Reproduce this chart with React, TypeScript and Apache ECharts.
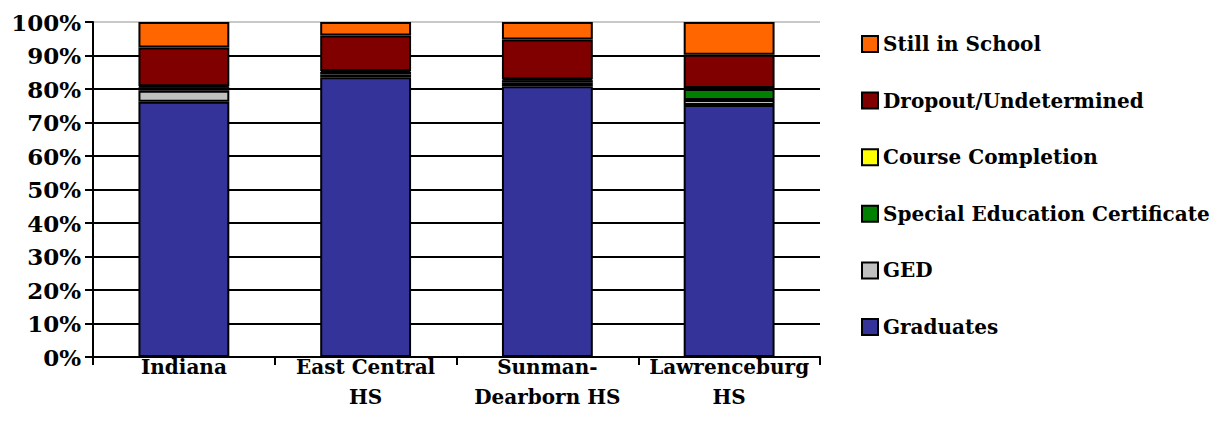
import React, { useEffect, useRef } from "react";
import * as echarts from "echarts";

const categories = ["Indiana", "East Central\nHS", "Sunman-\nDearborn HS", "Lawrenceburg\nHS"];
const graduates = [76.2, 83.5, 80.8, 75.2];
const ged = [3.3, 0.8, 1.2, 1.5];
const specialEd = [1.0, 0.8, 0.6, 3.3];
const courseCompletion = [0.3, 0.3, 0.3, 0.3];
const dropout = [11.6, 10.6, 11.9, 9.9];
const stillInSchool = [7.6, 4.0, 5.2, 9.8];
const yTicks = [0, 10, 20, 30, 40, 50, 60, 70, 80, 90, 100];

const FONT = "DejaVu Serif";

export default function App() {
  const ref = useRef<HTMLDivElement>(null);
  useEffect(() => {
    if (!ref.current) return;
    const chart = echarts.init(ref.current, undefined, { renderer: "svg" });
    const mk = (name: string, data: number[], color: string) => ({
      name,
      type: "bar",
      stack: "total",
      data,
      barWidth: "50%",
      itemStyle: { color, borderColor: "#000", borderWidth: 2 },
    });
    const gridColors = yTicks.map((t) => (t === 100 ? "#c8c8c8" : "#000"));
    chart.setOption({
      animation: false,
      grid: { left: 93, right: 405, top: 22, bottom: 84 },
      legend: {
        orient: "vertical",
        left: 856,
        top: 29,
        itemWidth: 16,
        itemHeight: 16,
        itemGap: 36.6,
        data: [
          "Still in School",
          "Dropout/Undetermined",
          "Course Completion",
          "Special Education Certificate",
          "GED",
          "Graduates",
        ],
        icon: "rect",
        itemStyle: { borderColor: "#000", borderWidth: 2 },
        textStyle: { fontFamily: FONT, fontWeight: "bold", fontSize: 20, color: "#000", lineHeight: 20, padding: [0, 0, 0, 0] },
      },
      xAxis: {
        type: "category",
        data: categories,
        axisLine: { lineStyle: { color: "#000", width: 2 } },
        axisTick: { show: true, length: 8, lineStyle: { color: "#000", width: 2 } },
        axisLabel: {
          interval: 0,
          fontFamily: FONT,
          fontWeight: "bold",
          fontSize: 20,
          color: "#000",
          lineHeight: 30,
          margin: -5,
        },
      },
      yAxis: {
        type: "value",
        min: 0,
        max: 100,
        interval: 10,
        axisLine: { show: true, lineStyle: { color: "#000", width: 2 } },
        axisTick: { show: true, length: 8, lineStyle: { color: "#000", width: 2 } },
        splitLine: { show: true, lineStyle: { color: gridColors, width: 2 } },
        axisLabel: {
          formatter: "{value}%",
          fontFamily: FONT,
          fontWeight: "bold",
          fontSize: 23,
          color: "#000",
          margin: 12,
        },
      },
      series: [
        mk("Graduates", graduates, "#333399"),
        mk("GED", ged, "#C0C0C0"),
        mk("Special Education Certificate", specialEd, "#008000"),
        mk("Course Completion", courseCompletion, "#FFFF00"),
        mk("Dropout/Undetermined", dropout, "#800000"),
        mk("Still in School", stillInSchool, "#FF6600"),
      ],
    });
    return () => chart.dispose();
  }, []);
  return <div ref={ref} style={{ width: 1225, height: 441, margin: -8 }} />;
}
